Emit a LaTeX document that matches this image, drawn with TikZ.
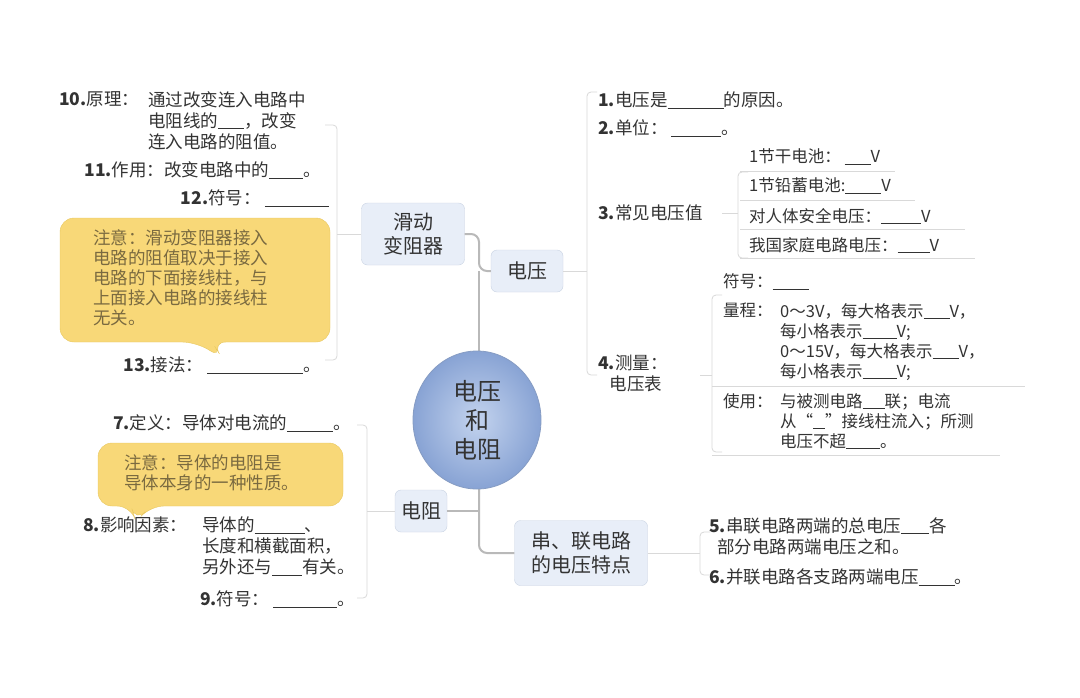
\documentclass[tikz,border=0pt]{standalone}
\usepackage{fontspec}
\setmainfont{Noto Sans CJK SC}
\usetikzlibrary{shapes.geometric}
\definecolor{txt}{HTML}{333333}
\definecolor{note}{HTML}{7A6A40}
\definecolor{boxfill}{HTML}{E8EEF8}
\definecolor{boxline}{HTML}{C9D3E3}
\definecolor{yel}{HTML}{F8D878}
\definecolor{yelline}{HTML}{E8C860}
\definecolor{ellin}{HTML}{C3D3EE}
\definecolor{ellout}{HTML}{88A3D4}
\newcommand{\bl}[1]{\rule[-2pt]{#1}{0.7pt}}
\newcommand{\nb}[1]{{\bfseries #1}}
\tikzset{
  leaf/.style={text=txt,font=\fontsize{17.5}{21}\selectfont,inner sep=1pt,align=left},
  sub/.style={text=txt,font=\fontsize{16.5}{20}\selectfont,inner sep=1pt,align=left},
  topic/.style={draw=boxline,fill=boxfill,rounded corners=6pt,text=txt,font=\fontsize{20}{24}\selectfont,align=center,inner sep=0pt},
  trunk/.style={draw=gray!55,line width=2pt,rounded corners=8pt},
  brk/.style={draw=gray!30,line width=0.8pt,rounded corners=4pt},
  notebox/.style={fill=yel,draw=yelline,rounded corners=14pt},
  notetxt/.style={text=note,font=\fontsize{17.5}{20}\selectfont,align=left,inner sep=0pt}
}
\begin{document}
\begin{tikzpicture}[x=1pt,y=-1pt]
\useasboundingbox[fill=white] (0,0) rectangle (1080,697);
% topics
\node[topic,minimum width=103pt,minimum height=62pt] (hd) at (413,234) {滑动\\变阻器};
\node[topic,minimum width=72pt,minimum height=42pt] (dy) at (527,271) {电压};
\node[topic,minimum width=52pt,minimum height=42pt] (dz) at (421,511) {电阻};
\node[topic,minimum width=133pt,minimum height=65pt] (cl) at (581,553) {串、联电路\\的电压特点};
% trunk
\coordinate (t1) at (479,234);
\coordinate (t2) at (479,271);
\coordinate (t3) at (479,511);
\draw[trunk] (hd.east) -- (t1) |- (dy.west);
\draw[trunk] (t2) -- (479,360);
\draw[trunk] (dz.east) -- (t3);
\draw[trunk] (479,480) |- (cl.west);
% centre
\node[ellipse,minimum width=128pt,minimum height=138pt,draw=ellout!80!gray,line width=0.8pt,
  inner color=ellin,outer color=ellout,text=txt,
  font=\fontsize{24}{29}\selectfont,align=center] (c) at (477,420) {电压\\和\\电阻};
% brackets
\draw[brk] (hd.west) -- (337,234);
\draw[brk] (325,125) -- (337,125) -- (337,360) -- (325,360);
\draw[brk] (dy.east) -- (587,271);
\draw[brk] (597,92) -- (587,92) -- (587,375) -- (597,375);
\draw[brk] (dz.west) -- (367,511);
\draw[brk] (357,425) -- (367,425) -- (367,598) -- (357,598);
\draw[brk] (cl.east) -- (700,553);
\draw[brk] (710,532) -- (700,532) -- (700,575) -- (710,575);
\draw[brk] (722,213) -- (738,213);
\draw[brk] (748,172) -- (738,172) -- (738,258) -- (748,258);
\draw[brk] (700,375) -- (712,375);
\draw[brk] (722,295) -- (712,295) -- (712,452) -- (722,452);
\draw[brk] (740,171) -- (895,171);
\draw[brk] (740,200) -- (915,200);
\draw[brk] (740,229) -- (965,229);
\draw[brk] (740,258) -- (975,258);
\draw[brk] (712,386) -- (1025,386);
\draw[brk] (712,455) -- (1000,455);
% left upper leaves
\node[leaf,anchor=north west] (l10) at (58,90) {\nb{10.}原理：};
\node[leaf,anchor=north west] (l10b) at (147,90) {通过改变连入电路中\\电阻线的\bl{26pt}，改变\\连入电路的阻值。};
\node[leaf,anchor=east] (l11) at (322,170) {\nb{11.}作用：改变电路中的\bl{34pt}。};
\node[leaf,anchor=east] (l12) at (330,198) {\nb{12.}符号：\ \bl{64pt}};
\draw[notebox] (60,218) -- (330,218) -- (330,342) -- (212,342) -- (222,358) -- (196,342) -- (60,342) -- cycle;
\node[notetxt,anchor=north west] (n1) at (93,229) {注意：滑动变阻器接入\\电路的阻值取决于接入\\电路的下面接线柱，与\\上面接入电路的接线柱\\无关。};
\node[leaf,anchor=east] (l13) at (322,365) {\nb{13.}接法：\ \bl{96pt}。};
% right voltage leaves
\node[leaf,anchor=west] (r1) at (597,100) {\nb{1.}电压是\bl{56pt}的原因。};
\node[leaf,anchor=west] (r2) at (597,128) {\nb{2.}单位：\ \bl{50pt}。};
\node[leaf,anchor=west] (r3) at (597,213) {\nb{3.}常见电压值};
\node[sub,anchor=west] (s1) at (748,157) {1节干电池：\ \bl{26pt}V};
\node[sub,anchor=west] (s2) at (748,186) {1节铅蓄电池:\bl{36pt}V};
\node[sub,anchor=west] (s3) at (748,216) {对人体安全电压：\bl{40pt}V};
\node[sub,anchor=west] (s4) at (748,245) {我国家庭电路电压：\bl{32pt}V};
\node[leaf,anchor=north west] (r4) at (597,354) {\nb{4.}测量：\\\ \ \ 电压表};
\node[sub,anchor=west] (m0) at (722,282) {符号：\bl{36pt}};
\node[sub,anchor=north west] (m1) at (722,302) {量程：};
\node[sub,anchor=north west] (m2) at (779,302) {0～3V，每大格表示\bl{26pt}V，\\每小格表示\bl{34pt}V;\\0～15V，每大格表示\bl{26pt}V，\\每小格表示\bl{34pt}V;};
\node[sub,anchor=north west] (m3) at (722,392) {使用：};
\node[sub,anchor=north west] (m4) at (779,392) {与被测电路\bl{22pt}联；电流\\从“\bl{12pt}”接线柱流入；所测\\电压不超\bl{34pt}。};
% left lower leaves
\node[leaf,anchor=east] (l7) at (352,423) {\nb{7.}定义：导体对电流的\bl{46pt}。};
\draw[notebox] (98,443) -- (343,443) -- (343,506) -- (150,506) -- (136,522) -- (131,506) -- (98,506) -- cycle;
\node[notetxt,anchor=north west] (n2) at (124,454) {注意：导体的电阻是\\导体本身的一种性质。};
\node[leaf,anchor=north west] (l8) at (82,516) {\nb{8.}影响因素：};
\node[leaf,anchor=north west] (l8b) at (201,516) {导体的\bl{50pt}、\\长度和横截面积，\\另外还与\bl{30pt}有关。};
\node[leaf,anchor=east] (l9) at (356,599) {\nb{9.}符号：\ \bl{64pt}。};
% series/parallel leaves
\node[leaf,anchor=north west] (p5) at (708,516) {\nb{5.}串联电路两端的总电压\bl{28pt}各\\\ \ 部分电路两端电压之和。};
\node[leaf,anchor=west] (p6) at (708,577) {\nb{6.}并联电路各支路两端电压\bl{36pt}。};
\end{tikzpicture}
\end{document}
